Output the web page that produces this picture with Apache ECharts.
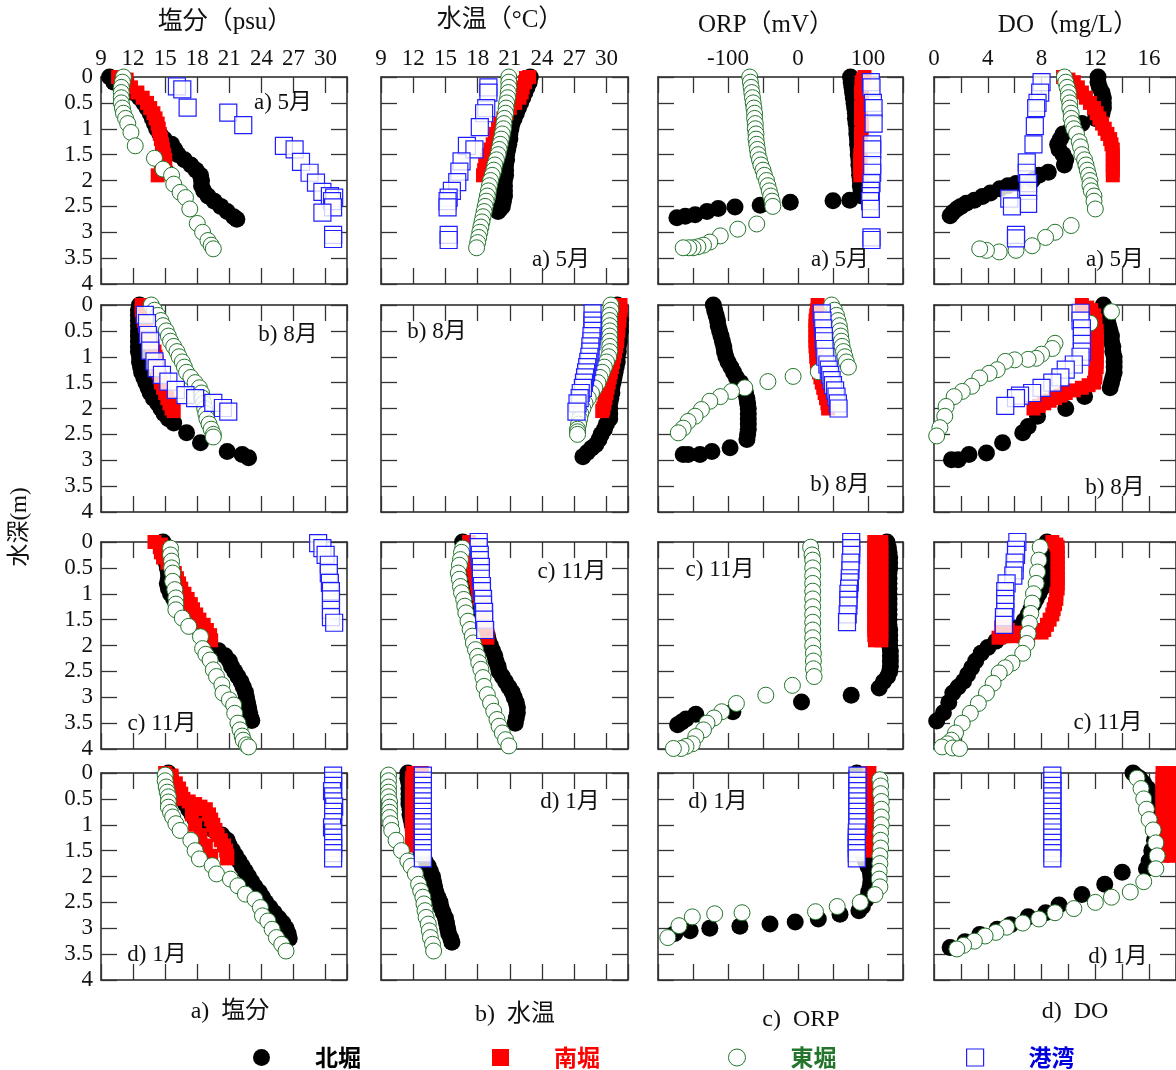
<!DOCTYPE html>
<html>
<head>
<meta charset="utf-8">
<script src="https://cdn.jsdelivr.net/npm/echarts@6.0.0/dist/echarts.min.js"></script>
<style>
  html, body { margin: 0; background: #fff; }
  #chart { width: 1176px; height: 1070px; }
</style>
</head>
<body>
<div id="chart"></div>
<script>
// station / month labels
const stations = ["北堀", "南堀", "東堀", "港湾"];
const monthTags = ["a) 5月", "b) 8月", "c) 11月", "d) 1月"];
const varTitles = ["塩分（psu）", "水温（°C）", "ORP（mV）", "DO（mg/L）"];
const bottomTitles = ["a)  塩分", "b)  水温", "c)  ORP", "d)  DO"];

// each array: [May, Aug, Nov, Jan], points are [value, depth(m)]
const salN = [
  [[9.8,0],[10.2,0.1],[11.2,0.2],[12.0,0.3],[12.6,0.4],[13.0,0.5],[13.3,0.6],[13.6,0.7],[13.8,0.8],[14.0,0.9],[14.2,1.0],[14.5,1.1],[14.9,1.2],[15.6,1.3],[15.9,1.4],[16.2,1.5],[16.8,1.6],[17.4,1.7],[17.9,1.8],[18.3,1.9],[18.4,2.0],[18.4,2.1],[18.6,2.2],[19.0,2.3],[19.6,2.4],[20.2,2.5],[20.8,2.6],[21.4,2.7],[21.7,2.75]],
  [[12.6,0],[12.5,0.1],[12.5,0.2],[12.5,0.3],[12.5,0.4],[12.5,0.5],[12.5,0.6],[12.5,0.7],[12.5,0.8],[12.5,0.9],[12.6,1.0],[12.6,1.1],[12.7,1.2],[12.8,1.3],[13.0,1.4],[13.2,1.5],[13.4,1.6],[13.6,1.7],[13.9,1.8],[14.3,1.9],[14.6,2.0],[14.9,2.1],[15.3,2.2],[15.8,2.28],[17.0,2.47],[18.3,2.66],[20.8,2.83],[22.2,2.89],[22.8,2.95]],
  [[14.8,0],[14.8,0.1],[14.9,0.2],[15.0,0.3],[15.1,0.4],[15.2,0.5],[15.3,0.6],[15.3,0.7],[15.2,0.8],[15.3,0.9],[15.5,1.0],[15.8,1.1],[16.2,1.2],[16.6,1.3],[17.0,1.4],[17.4,1.5],[17.8,1.6],[18.2,1.7],[18.5,1.8],[18.8,1.9],[19.2,2.0],[20.0,2.1],[20.6,2.2],[21.0,2.3],[21.2,2.4],[21.5,2.5],[21.8,2.6],[22.1,2.7],[22.3,2.8],[22.5,2.9],[22.6,3.0],[22.7,3.1],[22.8,3.2],[22.9,3.3],[23.0,3.4],[23.1,3.45]],
  [[15.3,0],[15.5,0.1],[15.7,0.2],[16.0,0.3],[16.3,0.4],[16.6,0.5],[16.9,0.6],[17.2,0.7],[17.5,0.8],[17.8,0.9],[18.5,1.0],[19.5,1.1],[20.3,1.2],[20.8,1.3],[21.0,1.4],[21.3,1.5],[21.6,1.6],[21.9,1.7],[22.2,1.8],[22.5,1.9],[22.8,2.0],[23.1,2.1],[23.4,2.2],[23.8,2.3],[24.1,2.4],[24.4,2.5],[24.8,2.6],[25.2,2.7],[25.6,2.8],[26.0,2.9],[26.3,3.0],[26.5,3.1],[26.6,3.2]]
];
const salS = [
  [[10.6,0],[11.4,0.05],[11.2,0.1],[11.8,0.2],[12.4,0.3],[12.9,0.4],[13.3,0.5],[13.6,0.6],[13.9,0.7],[14.1,0.8],[14.3,0.9],[14.4,1.0],[14.5,1.1],[14.6,1.2],[14.7,1.3],[14.8,1.4],[14.9,1.5],[15.0,1.6],[15.0,1.7],[14.6,1.8],[15.1,1.85],[14.3,1.9]],
  [[12.8,0],[12.8,0.1],[12.9,0.2],[13.0,0.3],[13.1,0.4],[13.2,0.5],[13.4,0.6],[13.6,0.7],[13.8,0.8],[14.0,0.9],[14.1,1.0],[14.2,1.1],[14.3,1.2],[14.4,1.3],[14.5,1.4],[14.6,1.5],[14.8,1.6],[15.0,1.7],[15.2,1.8],[15.4,1.9],[15.6,2.0],[15.8,2.05]],
  [[14.0,0],[14.6,0.05],[14.5,0.1],[14.6,0.2],[14.8,0.3],[15.2,0.4],[15.6,0.5],[15.9,0.6],[16.1,0.7],[16.3,0.8],[16.5,0.9],[16.8,1.0],[17.1,1.1],[17.4,1.2],[17.6,1.3],[17.9,1.4],[18.2,1.5],[18.6,1.6],[18.9,1.7],[19.2,1.8],[19.3,1.9]],
  [[15.0,0],[15.6,0.05],[15.6,0.1],[16.0,0.2],[16.3,0.3],[16.5,0.4],[16.7,0.5],[17.2,0.55],[17.8,0.6],[18.3,0.65],[18.8,0.7],[17.5,0.8],[19.1,0.8],[19.3,0.9],[17.8,1.0],[19.5,1.0],[19.7,1.1],[18.3,1.2],[19.9,1.2],[20.2,1.3],[18.8,1.4],[20.5,1.4],[20.7,1.5],[19.3,1.6],[20.8,1.6],[20.8,1.65]]
];
const salE = [
  [[11.1,0],[11.0,0.1],[10.9,0.2],[10.9,0.3],[10.9,0.4],[10.9,0.5],[11.0,0.6],[11.1,0.7],[11.3,0.8],[11.5,0.9],[11.8,1.07],[12.2,1.33],[14.0,1.57],[14.8,1.78],[15.6,1.9],[15.8,2.07],[16.4,2.23],[16.9,2.33],[17.3,2.55],[18.0,2.83],[18.5,3.0],[19.0,3.16],[19.3,3.25],[19.5,3.32]],
  [[13.7,0],[14.0,0.1],[14.3,0.2],[14.6,0.3],[14.8,0.4],[15.1,0.5],[15.3,0.6],[15.5,0.7],[15.8,0.8],[16.1,0.9],[16.3,1.0],[16.6,1.1],[16.8,1.2],[17.0,1.3],[17.4,1.4],[17.8,1.5],[18.2,1.6],[18.4,1.7],[18.5,1.8],[18.6,1.9],[18.7,2.0],[18.8,2.1],[18.9,2.2],[19.1,2.3],[19.3,2.4],[19.5,2.5],[19.5,2.55]],
  [[15.5,0.12],[15.5,0.25],[15.6,0.37],[15.6,0.5],[15.7,0.6],[15.7,0.76],[15.9,0.92],[16.0,1.08],[16.0,1.2],[16.0,1.31],[16.6,1.47],[17.2,1.63],[18.3,1.83],[18.5,2.06],[18.8,2.17],[19.2,2.28],[19.5,2.47],[19.8,2.6],[20.3,2.76],[20.4,2.92],[21.0,3.05],[21.4,3.15],[21.5,3.31],[21.8,3.5],[22.0,3.63],[22.2,3.75],[22.3,3.83],[22.6,3.92],[22.8,3.96]],
  [[15.0,0.04],[15.0,0.15],[15.1,0.27],[15.2,0.37],[15.3,0.46],[15.3,0.56],[15.3,0.66],[15.5,0.76],[15.7,0.85],[16.0,0.98],[16.4,1.11],[17.4,1.3],[17.8,1.5],[18.2,1.66],[19.4,1.79],[19.8,1.95],[21.1,2.05],[21.8,2.18],[22.5,2.34],[23.4,2.44],[23.9,2.6],[24.1,2.76],[24.6,2.86],[25.0,3.02],[25.4,3.18],[25.9,3.31],[26.3,3.44]]
];
const salH = [
  [[16.1,0.18],[16.6,0.24],[17.1,0.59],[20.9,0.69],[22.3,0.93],[26.1,1.33],[27.1,1.4],[27.7,1.64],[28.5,1.85],[29.1,2.04],[29.7,2.22],[30.4,2.3],[30.8,2.33],[30.6,2.4],[30.7,2.52],[29.7,2.62],[30.7,3.05],[30.7,3.13]],
  [[13.1,0.19],[13.3,0.35],[13.4,0.58],[13.6,0.7],[13.6,0.88],[14.0,1.09],[14.2,1.22],[14.7,1.35],[15.3,1.48],[16.0,1.64],[16.9,1.74],[17.8,1.8],[19.5,1.89],[20.4,1.99],[20.9,2.06]],
  [[29.3,0.02],[29.7,0.12],[30.0,0.25],[30.3,0.44],[30.3,0.6],[30.4,0.79],[30.5,0.95],[30.5,1.11],[30.5,1.31],[30.5,1.45],[30.8,1.56]],
  [[30.7,0.05],[30.7,0.15],[30.7,0.25],[30.6,0.35],[30.7,0.45],[30.7,0.55],[30.8,0.65],[30.7,0.75],[30.7,0.85],[30.7,0.95],[30.6,1.05],[30.7,1.15],[30.7,1.25],[30.7,1.35],[30.7,1.45],[30.7,1.55],[30.7,1.65]]
];

const tmpN = [
  [[22.9,0],[22.8,0.1],[22.6,0.2],[22.4,0.3],[22.2,0.4],[22.0,0.5],[21.8,0.6],[21.6,0.7],[21.4,0.8],[21.2,0.9],[21.1,1.0],[21.0,1.1],[21.0,1.2],[20.9,1.3],[20.8,1.4],[20.7,1.5],[20.7,1.6],[20.6,1.7],[20.6,1.8],[20.6,1.9],[20.5,2.0],[20.5,2.1],[20.5,2.2],[20.5,2.3],[20.4,2.4],[20.3,2.5],[20.1,2.55],[19.9,2.6]],
  [[31.0,0],[31.1,0.1],[31.2,0.2],[31.3,0.3],[31.3,0.4],[31.3,0.5],[31.2,0.6],[31.2,0.7],[31.1,0.8],[31.1,0.9],[31.0,1.0],[31.0,1.1],[30.9,1.2],[30.8,1.3],[30.7,1.4],[30.6,1.5],[30.5,1.6],[30.5,1.7],[30.4,1.8],[30.3,1.9],[30.3,2.0],[30.3,2.1],[30.3,2.2],[30.0,2.3],[29.8,2.4],[29.5,2.5],[29.3,2.6],[29.0,2.7],[28.6,2.77],[28.2,2.85],[27.8,2.93]],
  [[16.6,0],[16.8,0.1],[17.0,0.2],[17.1,0.3],[17.2,0.4],[17.3,0.5],[17.4,0.6],[17.5,0.7],[17.6,0.8],[17.7,0.9],[17.8,1.0],[17.9,1.1],[18.0,1.2],[18.1,1.3],[18.2,1.4],[18.3,1.5],[18.5,1.6],[18.7,1.7],[18.9,1.8],[19.0,1.9],[19.2,2.0],[19.4,2.1],[19.6,2.2],[19.7,2.3],[19.9,2.4],[20.0,2.5],[20.3,2.6],[20.6,2.7],[20.9,2.8],[21.2,2.9],[21.4,3.0],[21.6,3.1],[21.7,3.2],[21.7,3.3],[21.6,3.4],[21.5,3.5]],
  [[11.5,0],[11.5,0.1],[11.6,0.2],[11.6,0.3],[11.6,0.4],[11.6,0.5],[11.6,0.6],[11.7,0.7],[11.7,0.8],[11.8,0.9],[11.9,1.0],[12.0,1.1],[12.1,1.2],[12.3,1.3],[12.5,1.4],[12.7,1.5],[12.9,1.6],[13.1,1.7],[13.4,1.8],[13.6,1.9],[13.8,2.0],[13.9,2.1],[14.0,2.2],[14.1,2.3],[14.3,2.4],[14.5,2.5],[14.6,2.6],[14.8,2.7],[15.0,2.8],[15.1,2.9],[15.2,3.0],[15.3,3.1],[15.5,3.2],[15.6,3.27]]
];
const tmpS = [
  [[22.8,0],[22.5,0.02],[22.4,0.1],[22.2,0.2],[22.1,0.3],[21.9,0.4],[21.5,0.5],[21.0,0.6],[20.7,0.7],[20.4,0.8],[20.1,0.9],[19.9,1.0],[19.7,1.1],[19.6,1.2],[19.4,1.3],[19.2,1.4],[19.0,1.5],[18.9,1.6],[18.7,1.7],[18.6,1.8],[18.5,1.9]],
  [[31.3,0],[31.3,0.1],[31.2,0.2],[31.2,0.3],[31.1,0.4],[31.1,0.5],[31.0,0.6],[31.0,0.7],[30.9,0.8],[30.8,0.9],[30.7,1.0],[30.6,1.1],[30.5,1.2],[30.4,1.3],[30.3,1.4],[30.2,1.5],[30.1,1.6],[30.0,1.7],[29.9,1.8],[29.8,1.9],[29.7,2.0],[29.6,2.05]],
  [[17.2,0],[17.3,0.1],[17.4,0.2],[17.5,0.3],[17.5,0.4],[17.6,0.5],[17.7,0.6],[17.8,0.7],[17.9,0.8],[18.0,0.9],[18.1,1.0],[18.2,1.1],[18.3,1.2],[18.4,1.3],[18.5,1.4],[18.6,1.5],[18.7,1.6],[18.8,1.7],[18.9,1.8],[18.9,1.85]],
  [[12.0,0],[12.8,0],[12.4,0.03],[11.9,0.1],[11.9,0.2],[11.9,0.3],[11.9,0.4],[11.9,0.5],[11.9,0.6],[11.9,0.7],[11.9,0.8],[11.9,0.9],[11.9,1.0],[11.9,1.1],[11.9,1.2],[11.9,1.3],[11.9,1.4]]
];
const tmpE = [
  [[20.9,0],[20.9,0.1],[20.9,0.2],[20.85,0.3],[20.8,0.4],[20.7,0.5],[20.65,0.6],[20.6,0.7],[20.5,0.8],[20.45,0.9],[20.4,1.0],[20.3,1.1],[20.2,1.2],[20.1,1.3],[20.0,1.4],[19.9,1.5],[19.75,1.6],[19.6,1.7],[19.5,1.8],[19.35,1.9],[19.2,2.0],[19.1,2.1],[19.0,2.2],[18.9,2.3],[18.8,2.4],[18.7,2.5],[18.6,2.6],[18.5,2.7],[18.4,2.8],[18.3,2.9],[18.2,3.0],[18.1,3.1],[18.0,3.2],[17.9,3.3]],
  [[30.4,0],[30.4,0.1],[30.3,0.2],[30.3,0.3],[30.3,0.4],[30.3,0.5],[30.3,0.6],[30.3,0.7],[30.3,0.8],[30.3,0.9],[30.2,1.0],[30.0,1.1],[29.8,1.2],[29.6,1.3],[29.4,1.4],[29.2,1.5],[28.9,1.6],[28.6,1.7],[28.3,1.8],[28.0,1.9],[27.8,2.0],[27.6,2.1],[27.5,2.2],[27.4,2.3],[27.3,2.4],[27.3,2.45],[27.3,2.5]],
  [[16.6,0.12],[16.5,0.2],[16.4,0.34],[16.3,0.45],[16.2,0.6],[16.3,0.72],[16.4,0.86],[16.5,0.98],[16.7,1.11],[16.8,1.24],[16.9,1.37],[17.1,1.53],[17.3,1.69],[17.5,1.82],[17.6,1.95],[17.8,2.08],[18.0,2.21],[18.1,2.33],[18.3,2.46],[18.5,2.62],[18.6,2.79],[18.9,2.95],[19.2,3.11],[19.5,3.27],[19.8,3.43],[20.0,3.56],[20.3,3.69],[20.6,3.82],[20.9,3.94]],
  [[9.7,0.04],[9.7,0.15],[9.7,0.27],[9.7,0.37],[9.7,0.46],[9.8,0.56],[9.8,0.66],[9.8,0.76],[9.8,0.86],[9.9,0.98],[10.0,1.11],[10.4,1.3],[10.9,1.5],[11.5,1.7],[11.8,1.8],[12.2,1.95],[12.5,2.15],[12.7,2.28],[12.9,2.4],[13.0,2.53],[13.1,2.66],[13.2,2.79],[13.4,2.92],[13.5,3.05],[13.6,3.18],[13.8,3.31],[13.9,3.44]]
];
const tmpH = [
  [[19.0,0.2],[19.0,0.3],[18.8,0.6],[18.6,0.7],[18.2,0.97],[17.0,1.33],[17.7,1.4],[16.5,1.63],[16.3,1.83],[16.1,2.03],[15.6,2.2],[15.3,2.33],[15.2,2.4],[15.2,2.52],[15.3,3.05],[15.3,3.15]],
  [[28.7,0.16],[28.7,0.3],[28.7,0.4],[28.7,0.5],[28.6,0.6],[28.6,0.7],[28.5,0.8],[28.5,0.9],[28.4,1.0],[28.3,1.1],[28.2,1.2],[28.1,1.3],[28.0,1.4],[27.9,1.5],[27.8,1.6],[27.6,1.7],[27.5,1.8],[27.3,1.9],[27.2,2.06]],
  [[18.1,0],[18.1,0.1],[18.2,0.25],[18.2,0.35],[18.3,0.48],[18.3,0.6],[18.3,0.71],[18.4,0.85],[18.4,0.95],[18.5,1.1],[18.5,1.21],[18.6,1.35],[18.6,1.5],[18.7,1.7]],
  [[12.9,0.05],[12.9,0.15],[12.9,0.25],[12.9,0.35],[12.9,0.45],[12.9,0.55],[12.9,0.65],[12.9,0.75],[12.9,0.85],[12.9,0.95],[12.9,1.05],[12.9,1.15],[12.9,1.25],[12.9,1.35],[12.9,1.45],[12.9,1.55],[12.9,1.65]]
];

const orpN = [
  [[75,0],[76,0.1],[77,0.2],[78,0.3],[79,0.4],[80,0.5],[81,0.6],[82,0.7],[82,0.8],[83,0.9],[84,1.0],[84,1.1],[85,1.2],[85,1.3],[86,1.4],[86,1.5],[87,1.6],[87,1.7],[88,1.8],[88,1.9],[89,2.0],[89,2.1],[90,2.2],[91,2.3],[74,2.38],[50,2.39],[-11,2.42],[-54,2.48],[-90,2.51],[-114,2.54],[-130,2.6],[-147,2.66],[-161,2.69],[-173,2.72]],
  [[-121,0],[-119,0.1],[-117,0.2],[-115,0.3],[-114,0.4],[-112,0.5],[-110,0.6],[-108,0.7],[-106,0.8],[-105,0.9],[-103,1.0],[-100,1.1],[-96,1.2],[-92,1.3],[-88,1.4],[-82,1.5],[-77,1.6],[-75,1.7],[-73,1.8],[-72,1.9],[-71,2.0],[-71,2.1],[-71,2.2],[-71,2.3],[-71,2.4],[-72,2.5],[-73,2.6],[-97,2.76],[-123,2.83],[-140,2.89],[-157,2.89],[-164,2.89]],
  [[127,0],[129,0.1],[130,0.2],[131,0.3],[131,0.4],[131,0.5],[130,0.6],[130,0.7],[130,0.8],[130,0.9],[130,1.0],[130,1.1],[130,1.2],[130,1.3],[130,1.4],[130,1.5],[130,1.6],[131,1.7],[131,1.8],[131,1.9],[131,2.0],[132,2.1],[132,2.2],[132,2.3],[132,2.4],[131,2.5],[128,2.6],[122,2.7],[116,2.82],[76,2.96],[5,3.09],[-93,3.28],[-146,3.33],[-160,3.42],[-166,3.48],[-172,3.53]],
  [[84,0],[85,0.1],[85,0.2],[86,0.3],[86,0.4],[86,0.5],[87,0.6],[87,0.7],[87,0.8],[87,0.9],[87,1.0],[87,1.1],[88,1.2],[88,1.3],[88,1.4],[90,1.5],[93,1.6],[96,1.7],[100,1.8],[103,1.9],[104,2.0],[104,2.1],[103,2.2],[101,2.3],[97,2.45],[92,2.58],[87,2.66],[60,2.73],[29,2.82],[-4,2.88],[-40,2.92],[-83,2.96],[-126,3.0],[-154,3.05],[-176,3.1]]
];
const orpS = [
  [[95,0],[93,0.05],[91,0.1],[91,0.2],[90,0.3],[91,0.4],[91,0.5],[90,0.6],[90,0.7],[90,0.8],[91,0.9],[91,1.0],[90,1.1],[90,1.2],[90,1.3],[90,1.4],[89,1.5],[89,1.6],[89,1.7],[89,1.8],[89,1.9]],
  [[28,0],[27,0.1],[26,0.2],[25,0.3],[25,0.4],[25,0.5],[25,0.6],[25,0.7],[25,0.8],[26,0.9],[26,1.0],[27,1.1],[28,1.2],[30,1.3],[32,1.4],[34,1.5],[36,1.6],[38,1.7],[40,1.8],[42,1.9],[43,2.0]],
  [[109,0],[119,0],[109,0.1],[119,0.1],[109,0.2],[119,0.2],[109,0.3],[119,0.3],[109,0.4],[119,0.4],[109,0.5],[119,0.5],[109,0.6],[119,0.6],[109,0.7],[119,0.7],[109,0.8],[119,0.8],[109,0.9],[119,0.9],[109,1.0],[119,1.0],[109,1.1],[119,1.1],[109,1.2],[119,1.2],[109,1.3],[119,1.3],[109,1.4],[119,1.4],[109,1.5],[119,1.5],[109,1.6],[119,1.6],[109,1.7],[119,1.7],[109,1.8],[119,1.8],[110,1.9],[119,1.9]],
  [[102,0],[102,0.1],[102,0.2],[102,0.3],[102,0.4],[102,0.5],[102,0.6],[102,0.7],[102,0.8],[102,0.9],[102,1.0],[102,1.1],[102,1.2],[101,1.3],[101,1.4],[101,1.5]]
];
const orpE = [
  [[-69,0],[-68,0.1],[-67,0.2],[-66,0.3],[-65,0.4],[-64,0.5],[-63,0.6],[-62,0.7],[-62,0.8],[-61,0.9],[-61,1.0],[-60,1.1],[-60,1.2],[-59,1.3],[-58,1.4],[-57,1.5],[-55,1.6],[-53,1.7],[-50,1.8],[-48,1.9],[-45,2.0],[-43,2.1],[-41,2.2],[-39,2.3],[-37,2.4],[-36,2.5],[-59,2.84],[-86,2.94],[-111,3.07],[-126,3.19],[-135,3.25],[-143,3.28],[-150,3.3],[-156,3.3],[-164,3.3]],
  [[48,0],[52,0.1],[55,0.2],[57,0.3],[59,0.4],[60,0.5],[61,0.6],[62,0.7],[63,0.8],[65,0.9],[67,1.0],[69,1.1],[72,1.2],[29,1.29],[-7,1.38],[-43,1.48],[-76,1.6],[-95,1.67],[-111,1.77],[-126,1.86],[-138,2.02],[-147,2.15],[-157,2.25],[-164,2.38],[-171,2.47]],
  [[18,0.1],[20,0.25],[21,0.35],[21,0.5],[21,0.65],[21,0.8],[21,0.95],[21,1.1],[21,1.25],[21,1.4],[21,1.55],[21,1.7],[21,1.85],[21,2.0],[22,2.15],[22,2.3],[22,2.45],[23,2.6],[-8,2.77],[-46,2.96],[-88,3.12],[-109,3.28],[-120,3.4],[-130,3.5],[-135,3.63],[-146,3.76],[-151,3.9],[-160,3.95],[-167,3.99],[-178,3.99]],
  [[117,0.13],[118,0.25],[118,0.4],[119,0.55],[119,0.7],[119,0.85],[119,1.0],[118,1.15],[118,1.3],[118,1.45],[117,1.6],[117,1.75],[116,1.9],[116,2.05],[117,2.2],[110,2.35],[89,2.5],[56,2.58],[25,2.68],[-80,2.7],[-119,2.72],[-151,2.78],[-170,2.95],[-186,3.18]]
];
const orpH = [
  [[104,0.1],[105,0.2],[107,0.5],[108,0.6],[108,0.9],[106,1.3],[106,1.4],[106,1.7],[106,1.85],[105,2.05],[104,2.2],[104,2.3],[103,2.4],[104,2.55],[105,3.1],[105,3.15]],
  [[34,0.16],[35,0.3],[36,0.45],[37,0.6],[37,0.7],[38,0.85],[39,1.0],[42,1.15],[44,1.25],[46,1.35],[48,1.45],[50,1.55],[53,1.65],[55,1.77],[57,1.9],[58,2.0]],
  [[76,0],[76,0.12],[76,0.25],[75,0.4],[75,0.55],[74,0.7],[74,0.78],[73,0.9],[72,1.0],[72,1.12],[72,1.23],[71,1.4],[70,1.55]],
  [[85,0.05],[85,0.15],[85,0.25],[85,0.35],[85,0.45],[85,0.55],[85,0.65],[85,0.75],[85,0.85],[85,0.95],[85,1.05],[84,1.15],[84,1.25],[84,1.35],[84,1.45],[84,1.55],[84,1.65]]
];

const doN = [
  [[12.2,0],[12.2,0.1],[12.3,0.2],[12.5,0.3],[12.6,0.4],[12.6,0.5],[12.6,0.6],[12.5,0.7],[12.0,0.8],[11.0,0.9],[10.2,1.0],[9.6,1.1],[9.4,1.2],[9.2,1.3],[9.3,1.4],[9.6,1.5],[9.8,1.6],[9.7,1.7],[8.5,1.84],[7.8,1.9],[7.3,2.0],[6.1,2.06],[5.5,2.1],[4.9,2.16],[4.2,2.24],[3.6,2.31],[3.0,2.38],[2.4,2.44],[2.0,2.5],[1.7,2.55],[1.4,2.62],[1.2,2.68]],
  [[12.6,0],[12.7,0.1],[12.8,0.2],[12.9,0.3],[13.0,0.4],[13.1,0.5],[13.2,0.6],[13.2,0.7],[13.3,0.8],[13.3,0.9],[13.4,1.0],[13.4,1.1],[13.4,1.2],[13.4,1.3],[13.3,1.4],[13.2,1.5],[13.1,1.6],[11.2,1.77],[9.8,2.0],[7.7,2.15],[7.0,2.35],[6.6,2.47],[5.1,2.66],[3.9,2.86],[2.6,2.89],[1.8,2.99],[1.3,2.99]],
  [[8.4,0],[8.4,0.1],[8.4,0.2],[8.3,0.3],[8.3,0.4],[8.3,0.5],[8.2,0.6],[8.2,0.7],[8.1,0.8],[8.0,0.9],[7.8,1.0],[7.6,1.1],[7.4,1.2],[7.2,1.3],[7.0,1.4],[6.7,1.52],[6.0,1.66],[5.3,1.8],[4.6,1.92],[4.0,2.04],[3.5,2.15],[3.1,2.3],[2.8,2.43],[2.5,2.56],[2.2,2.69],[1.8,2.8],[1.4,2.92],[1.1,3.1],[0.7,3.3],[0.2,3.46]],
  [[14.8,0],[15.0,0.05],[15.3,0.1],[15.6,0.2],[15.9,0.3],[16.1,0.4],[16.3,0.5],[16.4,0.7],[16.5,0.9],[16.5,1.1],[16.4,1.3],[16.2,1.5],[16.0,1.7],[15.8,1.85],[14.0,1.92],[12.7,2.15],[11.0,2.35],[9.3,2.55],[8.3,2.7],[7.0,2.78],[5.7,2.93],[4.7,3.02],[3.4,3.12],[2.3,3.26],[1.2,3.37]]
];
const doS = [
  [[9.6,0],[10.0,0.05],[10.4,0.1],[10.7,0.2],[11.0,0.3],[11.3,0.4],[11.6,0.5],[11.9,0.6],[12.1,0.7],[12.3,0.8],[12.5,0.9],[12.7,1.0],[12.9,1.1],[13.1,1.2],[13.2,1.3],[13.3,1.4],[13.3,1.5],[13.3,1.6],[13.3,1.7],[13.3,1.8],[13.3,1.9]],
  [[11.0,0],[11.4,0.05],[11.7,0.1],[11.9,0.2],[12.0,0.3],[12.0,0.4],[12.1,0.5],[12.1,0.6],[12.1,0.7],[12.1,0.8],[12.1,0.9],[12.1,1.0],[12.1,1.1],[12.1,1.2],[12.0,1.3],[12.0,1.4],[11.9,1.5],[11.5,1.55],[11.0,1.6],[10.4,1.65],[9.8,1.7],[9.4,1.75],[9.0,1.8],[8.6,1.85],[8.2,1.9],[7.8,1.95],[7.4,2.0]],
  [[8.8,0],[9.1,0.05],[9.2,0.1],[9.2,0.2],[9.2,0.3],[9.2,0.4],[9.2,0.5],[9.2,0.6],[9.2,0.7],[9.2,0.8],[9.2,0.9],[9.1,1.0],[9.1,1.1],[9.0,1.2],[8.9,1.3],[8.8,1.4],[8.6,1.5],[8.4,1.6],[8.2,1.7],[8.0,1.75],[5.0,1.65],[5.5,1.7],[6.2,1.75],[7.0,1.8],[6.6,1.82],[6.0,1.82],[5.2,1.82],[4.8,1.85]],
  [[17.0,0],[17.8,0],[17.0,0.1],[17.8,0.1],[17.0,0.2],[17.8,0.2],[17.0,0.3],[17.8,0.3],[17.0,0.4],[17.8,0.4],[17.0,0.5],[17.8,0.5],[17.0,0.6],[17.8,0.6],[17.0,0.7],[17.8,0.7],[17.0,0.8],[17.8,0.8],[17.0,0.9],[17.8,0.9],[17.0,1.0],[17.8,1.0],[17.0,1.1],[17.8,1.1],[17.0,1.2],[17.8,1.2],[17.0,1.3],[17.8,1.3],[17.0,1.4],[17.8,1.4],[17.0,1.5],[17.8,1.5],[17.0,1.6],[17.8,1.6]]
];
const doE = [
  [[9.7,0],[9.8,0.1],[9.9,0.2],[10.0,0.3],[10.0,0.4],[10.1,0.5],[10.1,0.6],[10.2,0.7],[10.2,0.8],[10.3,0.9],[10.4,1.0],[10.6,1.1],[10.8,1.25],[10.9,1.35],[11.0,1.5],[11.2,1.6],[11.3,1.7],[11.4,1.8],[11.5,1.9],[11.6,2.0],[11.6,2.1],[11.7,2.2],[11.9,2.3],[11.9,2.4],[12.0,2.55],[10.2,2.87],[9.0,3.0],[8.3,3.1],[7.3,3.26],[6.1,3.35],[4.85,3.38],[3.9,3.35],[3.4,3.32]],
  [[13.2,0.13],[11.6,0.35],[9.0,0.74],[8.8,0.84],[8.0,0.95],[7.6,1.03],[7.0,1.05],[6.0,1.06],[5.3,1.09],[4.7,1.25],[4.1,1.32],[3.4,1.41],[2.8,1.57],[2.1,1.67],[1.5,1.77],[0.9,1.96],[0.8,2.15],[0.44,2.37],[0.2,2.53]],
  [[7.9,0.1],[7.8,0.35],[7.7,0.58],[7.6,0.8],[7.4,1.0],[7.3,1.18],[7.2,1.38],[7.1,1.57],[7.0,1.77],[6.9,1.96],[6.6,2.15],[5.8,2.34],[5.3,2.43],[4.85,2.53],[4.4,2.73],[3.9,2.92],[3.3,3.12],[2.7,3.31],[2.1,3.5],[1.6,3.69],[1.3,3.83],[1.0,3.9],[0.6,3.96],[1.4,3.98],[1.9,3.99]],
  [[15.1,0.1],[15.4,0.3],[15.6,0.5],[15.8,0.7],[16.0,0.9],[16.3,1.1],[16.5,1.35],[16.6,1.6],[16.5,1.85],[15.6,2.1],[14.6,2.3],[13.2,2.4],[12.0,2.5],[10.4,2.62],[9.0,2.7],[7.8,2.82],[6.6,2.9],[5.4,2.98],[4.6,3.08],[3.8,3.15],[3.0,3.25],[2.2,3.33],[1.7,3.4]]
];
const doH = [
  [[8.0,0.1],[7.9,0.3],[7.7,0.5],[7.6,0.6],[7.5,0.95],[7.4,1.3],[6.9,1.65],[6.9,1.85],[7.0,2.05],[7.0,2.2],[5.6,2.35],[7.0,2.45],[5.8,2.5],[6.1,3.05],[6.1,3.12]],
  [[10.9,0.15],[10.9,0.3],[11.0,0.45],[11.0,0.6],[11.0,0.75],[11.0,0.9],[10.9,1.0],[10.4,1.15],[9.8,1.25],[9.4,1.4],[8.8,1.5],[8.0,1.6],[7.3,1.7],[6.4,1.75],[6.1,1.8],[5.3,1.95]],
  [[6.2,0],[6.1,0.15],[6.1,0.25],[6.0,0.4],[6.0,0.55],[5.9,0.65],[5.4,0.8],[5.3,0.95],[5.3,1.1],[5.3,1.2],[5.3,1.35],[5.2,1.45],[5.2,1.6]],
  [[8.8,0.05],[8.8,0.15],[8.8,0.25],[8.8,0.35],[8.8,0.45],[8.8,0.55],[8.8,0.65],[8.8,0.75],[8.8,0.85],[8.8,0.95],[8.8,1.05],[8.8,1.15],[8.8,1.25],[8.8,1.35],[8.8,1.45],[8.8,1.55],[8.8,1.65]]
];

const variables = [
  [salN, salS, salE, salH],
  [tmpN, tmpS, tmpE, tmpH],
  [orpN, orpS, orpE, orpH],
  [doN, doS, doE, doH]
];

// axis ranges of the four columns
const xRanges = [
  { min: 9, max: 32, interval: 3, fmt: (v) => (v === 32 ? "" : String(v)) },
  { min: 9, max: 32, interval: 3, fmt: (v) => (v === 32 ? "" : String(v)) },
  { min: -200, max: 150, interval: 50, fmt: (v) => (v === -100 || v === 0 || v === 100 ? String(v) : "") },
  { min: 0, max: 18, interval: 2, fmt: (v) => (v % 4 === 0 && v < 18 ? String(v) : "") }
];

const colLeft = [101, 381, 658, 934];
const colWidth = [246, 247, 245, 245];
const rowTop = [77, 305, 542, 773];
const rowHeight = 207;

// where the month tag sits inside each panel [row][col]
const tagPos = [
  [[283, 103], [561, 260], [840, 260], [1115, 260]],
  [[288, 335], [437, 332], [840, 485], [1115, 488]],
  [[162, 724], [572, 572], [720, 570], [1108, 723]],
  [[157, 955], [570, 802], [718, 802], [1118, 957]]
];

const serif = '"Liberation Serif", "Noto Sans CJK JP", serif';
const markStyles = [
  { symbol: "circle", symbolSize: 17, itemStyle: { color: "#000", opacity: 1 }, z: 2 },
  { symbol: "rect", symbolSize: 14, itemStyle: { color: "#ff0000", opacity: 1 }, z: 3 },
  { symbol: "circle", symbolSize: 16, itemStyle: { color: "#fff", borderColor: "#23752b", borderWidth: 1, opacity: 1 }, z: 4 },
  { symbol: "rect", symbolSize: 17, itemStyle: { color: "rgba(255,255,255,0.8)", borderColor: "#1f1fff", borderWidth: 1.2, opacity: 1 }, z: 5 }
];

const frameLine = { show: true, onZero: false, lineStyle: { color: "#222", width: 1.5 } };
const innerTick = { show: true, inside: true, length: 16, lineStyle: { color: "#333", width: 1.3 } };

const grid = [], xAxis = [], yAxis = [], series = [], graphic = [];

for (let m = 0; m < 4; m++) {
  for (let v = 0; v < 4; v++) {
    const g = m * 4 + v;
    const r = xRanges[v];
    grid.push({ left: colLeft[v], top: rowTop[m], width: colWidth[v], height: rowHeight });

    xAxis.push({
      gridIndex: g, type: "value", position: "bottom",
      min: r.min, max: r.max, interval: r.interval,
      axisLine: frameLine, axisTick: innerTick,
      axisLabel: { show: false }, splitLine: { show: false }
    });
    xAxis.push({
      gridIndex: g, type: "value", position: "top",
      min: r.min, max: r.max, interval: r.interval,
      axisLine: frameLine, axisTick: innerTick,
      axisLabel: {
        show: m === 0, formatter: r.fmt, fontFamily: serif, fontSize: 23,
        color: "#111", margin: 7, showMaxLabel: v !== 3
      },
      splitLine: { show: false }
    });
    yAxis.push({
      gridIndex: g, type: "value", position: "left", inverse: true,
      min: 0, max: 4, interval: 0.5,
      axisLine: frameLine, axisTick: innerTick,
      axisLabel: { show: v === 0, fontFamily: serif, fontSize: 23, color: "#111", margin: 8 },
      splitLine: { show: false }
    });
    yAxis.push({
      gridIndex: g, type: "value", position: "right", inverse: true,
      min: 0, max: 4, interval: 0.5,
      axisLine: frameLine, axisTick: innerTick,
      axisLabel: { show: false }, splitLine: { show: false }
    });

    for (let s = 0; s < 4; s++) {
      const st = markStyles[s];
      series.push({
        type: "scatter",
        name: stations[s],
        xAxisIndex: 2 * g,
        yAxisIndex: 2 * g,
        data: variables[v][s][m],
        symbol: st.symbol,
        symbolSize: st.symbolSize,
        itemStyle: st.itemStyle,
        z: st.z,
        clip: false,
        silent: true
      });
    }

    graphic.push({
      type: "text", x: tagPos[m][v][0], y: tagPos[m][v][1], z: 10,
      style: {
        text: monthTags[m], font: "23px " + serif, fill: "#111",
        textAlign: "center", textVerticalAlign: "middle", align: "center", verticalAlign: "middle"
      }
    });
  }
}

// column titles, bottom captions, depth label
const topTitleXY = [[225, 22], [500, 20], [766, 25], [1068, 25]];
const bottomXY = [[230, 1012], [515, 1015], [801, 1020], [1075, 1012]];
for (let v = 0; v < 4; v++) {
  graphic.push({
    type: "text", x: topTitleXY[v][0], y: topTitleXY[v][1],
    style: { text: varTitles[v], font: "25px " + serif, fill: "#111", textAlign: "center", textVerticalAlign: "middle", align: "center", verticalAlign: "middle" }
  });
  graphic.push({
    type: "text", x: bottomXY[v][0], y: bottomXY[v][1],
    style: { text: bottomTitles[v], font: "24px " + serif, fill: "#111", textAlign: "center", textVerticalAlign: "middle", align: "center", verticalAlign: "middle" }
  });
}
graphic.push({
  type: "text", x: 20, y: 527, rotation: Math.PI / 2,
  style: { text: "水深(m)", font: "23px " + serif, fill: "#111", textAlign: "center", textVerticalAlign: "middle", align: "center", verticalAlign: "middle" }
});

// one legend block per station so each can be placed like the original
const legendColors = ["#000", "#ff0000", "#23752b", "#0000dd"];
const legendLeft = [248, 487, 723, 961];
const legendIcons = [
  { icon: "circle", itemStyle: { color: "#000", opacity: 1 } },
  { icon: "rect", itemStyle: { color: "#ff0000", opacity: 1 } },
  { icon: "circle", itemStyle: { color: "#fff", borderColor: "#23752b", borderWidth: 1, opacity: 1 } },
  { icon: "rect", itemStyle: { color: "#fff", borderColor: "#1f1fff", borderWidth: 1.2, opacity: 1 } }
];
const legend = stations.map((name, i) => ({
  left: legendLeft[i],
  top: 1041,
  itemWidth: 17,
  itemHeight: 17,
  selectedMode: false,
  data: [{ name: name, icon: legendIcons[i].icon, itemStyle: legendIcons[i].itemStyle }],
  textStyle: {
    color: legendColors[i], fontSize: 23, fontWeight: "bold",
    fontFamily: '"Noto Sans CJK JP", sans-serif', padding: [0, 0, 0, 40]
  }
}));

const chart = echarts.init(document.getElementById("chart"));
chart.setOption({
  animation: false,
  backgroundColor: "#fff",
  grid: grid,
  xAxis: xAxis,
  yAxis: yAxis,
  legend: legend,
  graphic: graphic,
  series: series
});
</script>
</body>
</html>
